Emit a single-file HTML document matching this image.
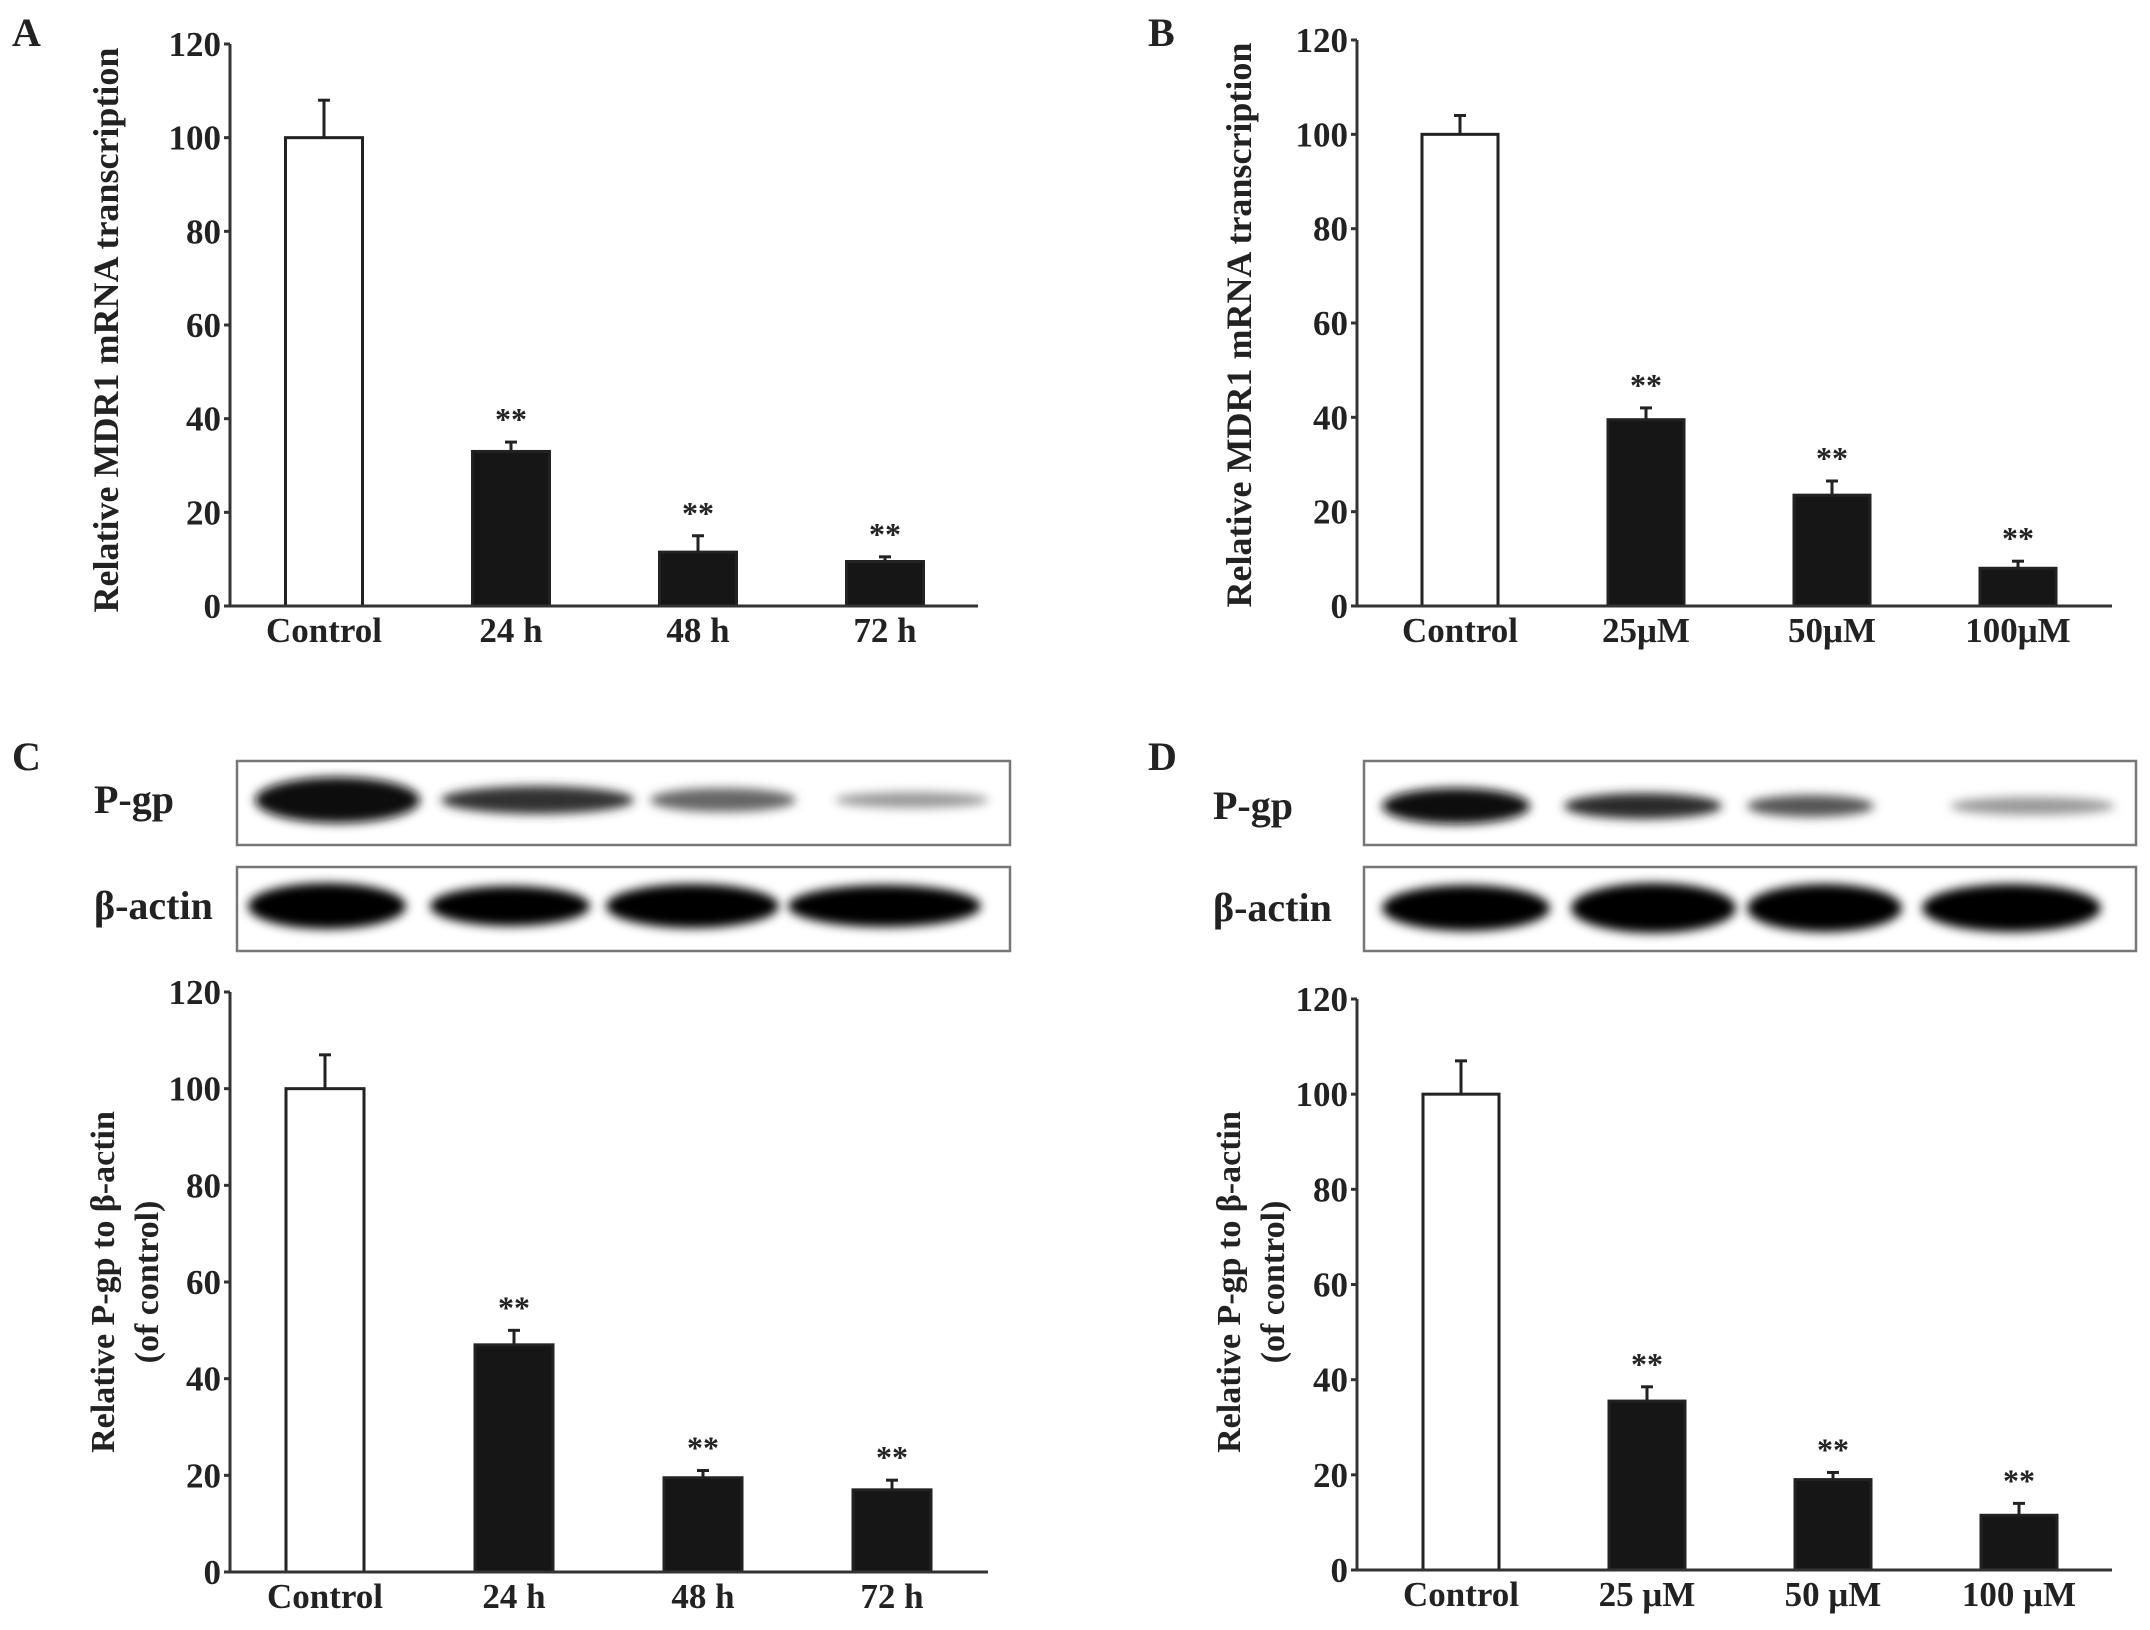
<!DOCTYPE html>
<html><head><meta charset="utf-8"><style>
html,body{margin:0;padding:0;background:#fff;}
svg{display:block;}
text{font-family:"Liberation Serif","DejaVu Serif",serif;font-weight:bold;fill:#222;}
</style></head><body>
<svg id="fig" width="2150" height="1630" viewBox="0 0 2150 1630" xmlns="http://www.w3.org/2000/svg">
<defs>
<filter id="blur" x="-20%" y="-100%" width="140%" height="300%"><feGaussianBlur stdDeviation="5"/></filter>
</defs>
<text x="12" y="46" font-size="40">A</text>
<text x="1148" y="46" font-size="40">B</text>
<text x="12" y="770" font-size="40">C</text>
<text x="1148" y="770" font-size="40">D</text>
<g id="blots"></g>
<g id="charts"></g>
</svg>
<script>
// Panel A data
const catsA = ["Control","24 h","48 h","72 h"];
const valsA = [100, 33, 11.5, 9.5];
const errsA = [8, 2, 3.5, 1];
// Panel B data
const catsB = ["Control","25μM","50μM","100μM"];
const valsB = [100, 39.5, 23.5, 8];
const errsB = [4, 2.5, 3, 1.5];
// Panel C data
const catsC = ["Control","24 h","48 h","72 h"];
const valsC = [100, 47, 19.5, 17];
const errsC = [7, 3, 1.5, 2];
// Panel D data
const catsD = ["Control","25 μM","50 μM","100 μM"];
const valsD = [100, 35.5, 19, 11.5];
const errsD = [7, 3, 1.5, 2.5];
const yTicks = [0,20,40,60,80,100,120];
const sigLabels = ["","**","**","**"];

const NS = "http://www.w3.org/2000/svg";
function mk(tag, attrs, parent){const e=document.createElementNS(NS,tag);for(const k in attrs)e.setAttribute(k,attrs[k]);parent.appendChild(e);return e;}

function drawChart(id, cats, vals, errs, g, titleLines){
  const grp = mk('g',{},document.getElementById('charts'));
  
  
  const yScale = v => g.y0 - (v/120)*(g.y0-g.y120);
  const xCenter = i => g.firstC + i*g.step;
  cats.forEach((c,i)=>{
    const x = xCenter(i)-g.bw/2, yv = yScale(vals[i]), ye = yScale(vals[i]+errs[i]);
    const eb = mk('line',{x1:xCenter(i),x2:xCenter(i),y1:yv,y2:ye,stroke:'#222','stroke-width':3},grp);
    
    
    mk('line',{x1:xCenter(i)-6,x2:xCenter(i)+6,y1:ye,y2:ye,stroke:'#222','stroke-width':3},grp);
    const r = mk('rect',{x:x,y:yv,width:g.bw,height:g.y0-yv,fill:i===0?'#fff':'#161616',stroke:'#222','stroke-width':3},grp);
    
    
    if(sigLabels[i]){
      const s = mk('text',{x:xCenter(i),y:ye-12,'text-anchor':'middle','font-size':32,fill:'#444'},grp);
      s.textContent = sigLabels[i];
      
      
    }
    const t = mk('text',{x:xCenter(i),y:g.y0+36,'text-anchor':'middle','font-size':35},grp);
    t.textContent = c;
    
    
  });
  const ya = mk('line',{x1:g.ax,x2:g.ax,y1:g.y120,y2:g.y0,stroke:'#333','stroke-width':3},grp);
  
  
  const xa = mk('line',{x1:g.ax,x2:g.xEnd,y1:g.y0,y2:g.y0,stroke:'#333','stroke-width':3},grp);
  
  
  yTicks.forEach(v=>{
    const y = yScale(v);
    mk('line',{x1:g.ax-6,x2:g.ax,y1:y,y2:y,stroke:'#333','stroke-width':3},grp);
    const t = mk('text',{x:g.ax-9,y:y+12,'text-anchor':'end','font-size':35},grp);
    t.textContent = v;
    
    
  });
  titleLines.forEach((ln,k)=>{
    const x = g.titleX + k*44;
    const t = mk('text',{x:x,y:g.titleY,'text-anchor':'middle','font-size':g.tfs,transform:`rotate(-90 ${x} ${g.titleY})`},grp);
    t.textContent = ln;
    
    
  });
}
drawChart('a', catsA, valsA, errsA, {ax:230,y0:606,y120:44,xEnd:978,firstC:324,step:187,bw:77,titleX:118,titleY:330,tfs:36}, ["Relative MDR1 mRNA transcription"]);
drawChart('b', catsB, valsB, errsB, {ax:1357,y0:606,y120:40,xEnd:2112,firstC:1460,step:186,bw:76,titleX:1251,titleY:325,tfs:36}, ["Relative MDR1 mRNA transcription"]);
drawChart('c', catsC, valsC, errsC, {ax:230,y0:1572,y120:992,xEnd:988,firstC:325,step:189,bw:78,titleX:114,titleY:1282,tfs:34}, ["Relative P-gp to β-actin","(of control)"]);
drawChart('d', catsD, valsD, errsD, {ax:1357,y0:1570,y120:999,xEnd:2112,firstC:1461,step:186,bw:76,titleX:1240,titleY:1282,tfs:34}, ["Relative P-gp to β-actin","(of control)"]);

const blotGroup = document.getElementById('blots');
function blot(id, label, box, lanes, cy, heights, shades, labelX){
  const g = mk('g',{},blotGroup);
  
  
  mk('rect',{x:box[0],y:box[1],width:box[2]-box[0],height:box[3]-box[1],fill:'#fff',stroke:'#777','stroke-width':2.5},g);
  lanes.forEach((l,i)=>{
    const b = mk('ellipse',{cx:(l[0]+l[1])/2,cy:cy,rx:(l[1]-l[0])/2,ry:heights[i]/2,fill:shades[i],filter:'url(#blur)'},g);
    
    
  });
  const t = mk('text',{x:labelX,y:cy+13,'font-size':40},g);
  t.textContent = label;
  
  
}
blot('c-pgp','P-gp',[237,761,1010,845],[[255,420],[441,634],[650,796],[835,989]],800,[46,28,24,16],['#111','#333','#666','#999'],94);
blot('c-actin','β-actin',[237,867,1010,951],[[248,406],[430,590],[606,779],[788,981]],906,[46,40,44,42],['#000','#000','#000','#000'],94);
blot('d-pgp','P-gp',[1364,761,2136,845],[[1382,1530],[1564,1722],[1747,1874],[1950,2115]],806,[36,26,22,18],['#111','#2a2a2a','#555','#999'],1213);
blot('d-actin','β-actin',[1364,867,2136,951],[[1382,1550],[1571,1736],[1747,1902],[1922,2101]],908,[46,50,48,48],['#000','#000','#000','#000'],1213);
</script>
</body></html>
